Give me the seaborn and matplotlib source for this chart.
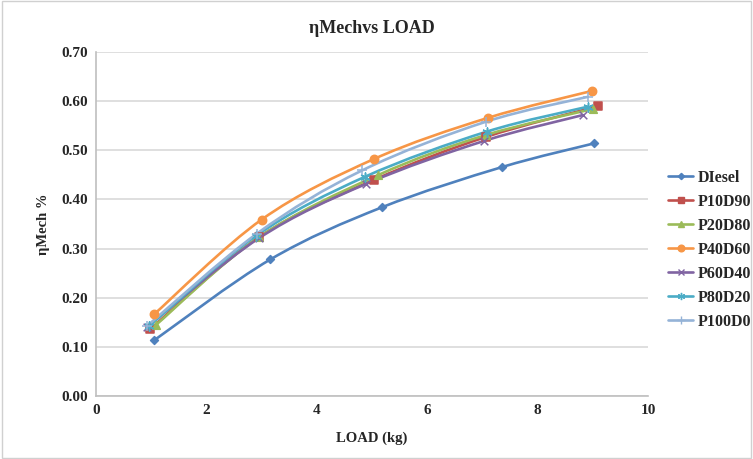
import numpy as np
import matplotlib
matplotlib.use("Agg")
import matplotlib.pyplot as plt
import seaborn as sns
from matplotlib.path import Path
from matplotlib.patches import PathPatch
from matplotlib.lines import Line2D

# data
series = ["DIesel", "P10D90", "P20D80", "P40D60", "P60D40", "P80D20", "P100D0"]
load_diesel = [1.05, 3.16, 5.18, 7.36, 9.02]
mech_diesel = [0.113, 0.278, 0.384, 0.466, 0.514]
load_p10 = [0.98, 2.96, 5.04, 7.06, 9.10]
mech_p10 = [0.136, 0.324, 0.440, 0.527, 0.590]
load_p20 = [1.09, 2.95, 5.10, 7.06, 9.00]
mech_p20 = [0.145, 0.323, 0.449, 0.531, 0.584]
load_p40 = [1.05, 3.00, 5.03, 7.10, 8.99]
mech_p40 = [0.166, 0.359, 0.482, 0.566, 0.621]
load_p60 = [0.92, 2.95, 4.90, 7.03, 8.83]
mech_p60 = [0.140, 0.321, 0.432, 0.519, 0.572]
load_p80 = [0.96, 2.90, 4.87, 7.08, 8.92]
mech_p80 = [0.142, 0.326, 0.446, 0.538, 0.589]
load_p100 = [0.92, 2.91, 4.82, 7.06, 8.92]
mech_p100 = [0.142, 0.330, 0.459, 0.558, 0.609]

loads = [load_diesel, load_p10, load_p20, load_p40, load_p60, load_p80, load_p100]
mechs = [mech_diesel, mech_p10, mech_p20, mech_p40, mech_p60, mech_p80, mech_p100]

colors = ["#4F81BD", "#C0504D", "#9BBB59", "#F79646", "#8064A2", "#4BACC6", "#95B3D7"]
markers = ["D", "s", "^", "o", "x", (6, 2, 0), "+"]
msizes = [4, 5.5, 5.5, 6, 5.5, 6.5, 7.5]


def smooth_path(x, y):
    # excel style smoothed line: catmull-rom segments as cubic beziers
    p = np.column_stack([x, y])
    n = len(p)
    verts = [p[0]]
    codes = [Path.MOVETO]
    for i in range(n - 1):
        p0 = p[i - 1] if i > 0 else p[i]
        p3 = p[i + 2] if i + 2 < n else p[i + 1]
        c1 = p[i] + (p[i + 1] - p0) / 6
        c2 = p[i + 1] - (p3 - p[i]) / 6
        verts += [c1, c2, p[i + 1]]
        codes += [Path.CURVE4] * 3
    return Path(verts, codes)


sns.set_style("white")
plt.rcParams["font.family"] = ["Liberation Serif", "DejaVu Serif"]
plt.rcParams["font.weight"] = "bold"

fig = plt.figure(figsize=(7.53, 4.59), dpi=100)
ax = fig.add_axes([0.1275, 0.1373, 0.7331, 0.7494])

handles = []
for name, x, y, c, m, ms in zip(series, loads, mechs, colors, markers, msizes):
    ax.add_patch(PathPatch(smooth_path(x, y), fill=False, edgecolor=c, lw=1.9, zorder=2))
    sns.scatterplot(x=x, y=y, ax=ax, marker=m, color=c, s=ms ** 2,
                    edgecolor=c, linewidth=1.1, zorder=3, legend=False)
    handles.append(Line2D([], [], color=c, lw=1.9, marker=m, markersize=ms * 0.8,
                          markeredgecolor=c, label=name))

ax.set_xlim(0, 10)
ax.set_ylim(0, 0.70)
ax.set_xticks(np.arange(0, 11, 2))
ax.set_yticks(np.arange(0, 0.71, 0.1))
ax.set_yticklabels([f"{v:.2f}" for v in np.arange(0, 0.71, 0.1)])
ax.yaxis.grid(True, color="#D9D9D9", lw=1.2)
ax.xaxis.grid(False)
for s in ["top", "right"]:
    ax.spines[s].set_visible(False)
for s in ["left", "bottom"]:
    ax.spines[s].set_color("#BFBFBF")
    ax.spines[s].set_linewidth(1.2)
ax.tick_params(axis="both", labelsize=11, length=0, pad=6)
for lab in ax.get_xticklabels() + ax.get_yticklabels():
    lab.set_fontweight("bold")

ax.set_title("ηMechvs LOAD", fontsize=13, fontweight="bold", pad=14)
ax.set_xlabel("LOAD (kg)", fontsize=10.5, fontweight="bold", labelpad=10)
ax.set_ylabel("ηMech %", fontsize=10.5, fontweight="bold", labelpad=8)

ax.legend(handles=handles, loc="center left", bbox_to_anchor=(1.01, 0.425),
          frameon=False, prop={"weight": "bold", "size": 11.5},
          handlelength=1.6, handletextpad=0.25, labelspacing=0.5)

fig.patches.append(plt.Rectangle((0.002, 0.002), 0.996, 0.996, transform=fig.transFigure,
                                 fill=False, edgecolor="#D0D0D0", lw=1))

fig.savefig("out.png", dpi=100)
